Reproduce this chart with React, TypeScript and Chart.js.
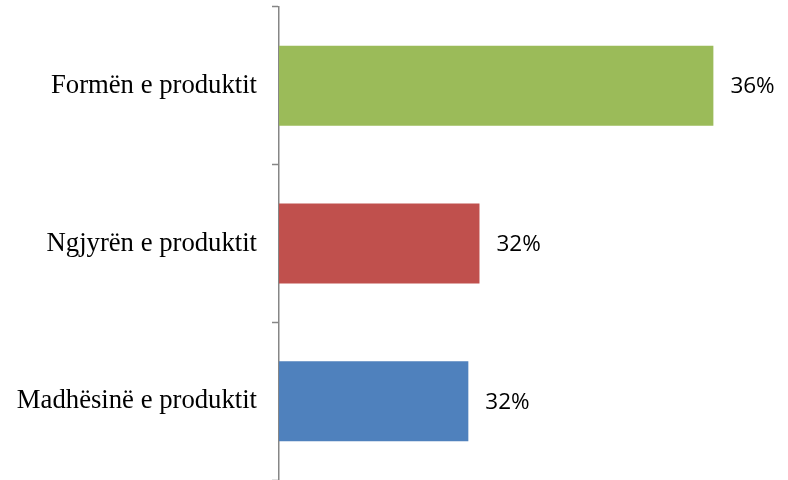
import React, { useEffect, useRef } from "react";
import { Chart, registerables } from "chart.js";

Chart.register(...registerables);

const categories = ["Formën e produktit", "Ngjyrën e produktit", "Madhësinë e produktit"];
const values = [36.4, 32.2, 32.0];
const valueLabels = ["36%", "32%", "32%"];
const barColors = ["#9BBB59", "#C0504D", "#4F81BD"];
const axisMin = 28.6;
const axisMax = 37.74;

const labelPlugin = {
  id: "valueLabels",
  afterDatasetsDraw(chart: any) {
    const ctx = chart.ctx;
    const meta = chart.getDatasetMeta(0);
    ctx.save();
    ctx.font = "22.5px 'Open Sans'";
    ctx.fillStyle = "#000000";
    ctx.textAlign = "left";
    ctx.textBaseline = "middle";
    meta.data.forEach((bar: any, i: number) => {
      ctx.fillText(valueLabels[i], bar.x + 17, bar.y + 1);
    });
    ctx.restore();
  },
};

export default function App() {
  const ref = useRef<HTMLCanvasElement | null>(null);
  useEffect(() => {
    if (!ref.current) return;
    const chart = new Chart(ref.current, {
      type: "bar",
      data: {
        labels: categories,
        datasets: [
          {
            data: values,
            backgroundColor: barColors,
            borderWidth: 0,
            barPercentage: 0.507,
            categoryPercentage: 1,
          },
        ],
      },
      options: {
        indexAxis: "y",
        animation: false,
        responsive: true,
        maintainAspectRatio: false,
        layout: { padding: { top: 7, right: 0, bottom: 0, left: 0 } },
        plugins: { legend: { display: false }, tooltip: { enabled: false } },
        scales: {
          x: { display: false, min: axisMin, max: axisMax },
          y: {
            afterFit: (scale: any) => {
              scale.width = 279;
              scale.paddingTop = 0;
              scale.paddingBottom = 0;
            },
            border: { display: true, color: "#868686", width: 1.5 },
            grid: {
              display: true,
              drawOnChartArea: false,
              drawTicks: true,
              tickLength: 7,
              tickWidth: 1.5,
              color: "#868686",
              offset: true,
            },
            ticks: {
              color: "#000000",
              padding: 15,
              font: { family: "'Liberation Serif', 'Times New Roman', serif", size: 26.7 },
            },
          },
        },
      },
      plugins: [labelPlugin],
    });
    return () => chart.destroy();
  }, []);
  return (
    <div style={{ position: "fixed", left: 0, top: 0, width: 788, height: 480, background: "#fff" }}>
      <canvas ref={ref} />
    </div>
  );
}
